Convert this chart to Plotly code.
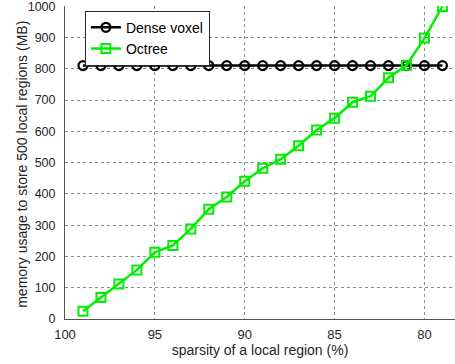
import plotly.graph_objects as go

sparsity = [99, 98, 97, 96, 95, 94, 93, 92, 91, 90, 89, 88, 87, 86, 85, 84, 83, 82, 81, 80, 79]
dense_voxel = [810] * 21
octree = [25, 69, 112, 157, 213, 235, 288, 351, 390, 440, 482, 511, 554, 604, 642,
          693, 712, 771, 811, 898, 999]

x_ticks = [100, 95, 90, 85, 80]
y_ticks = [0, 100, 200, 300, 400, 500, 600, 700, 800, 900, 1000]

font = "Liberation Sans, Arial, sans-serif"

fig = go.Figure()
fig.add_trace(go.Scatter(
    x=sparsity, y=dense_voxel, mode="lines+markers", name="Dense voxel",
    line=dict(color="black", width=2.5),
    marker=dict(symbol="circle-open", size=9, color="black", line=dict(width=2.2, color="black")),
))
fig.add_trace(go.Scatter(
    x=sparsity, y=octree, mode="lines+markers", name="Octree",
    line=dict(color="#00ee00", width=2.5),
    marker=dict(symbol="square-open", size=9, color="#00ee00", line=dict(width=2, color="#00ee00")),
))

fig.update_layout(
    width=455, height=364,
    margin=dict(l=65, r=0, t=6, b=45),
    paper_bgcolor="white", plot_bgcolor="white",
    font=dict(family=font, size=13, color="#262626"),
    showlegend=True,
    legend=dict(
        x=0.051, y=0.985, xanchor="left", yanchor="top",
        bgcolor="white", bordercolor="#262626", borderwidth=1,
        font=dict(size=14, color="black"),
        tracegroupgap=0, itemwidth=30,
    ),
    annotations=[dict(
        text="memory usage to store 500 local regions (MB)",
        xref="paper", yref="paper", x=-0.110, y=0.493,
        xanchor="center", yanchor="middle", textangle=-90, showarrow=False,
        font=dict(size=14, color="#262626"),
    )],
)
fig.update_xaxes(
    range=[100, 78.3], tickvals=x_ticks, ticktext=[str(v) for v in x_ticks],
    showgrid=True, gridcolor="#8a8a8a", griddash="dot", gridwidth=1,
    showline=True, linecolor="#555555", linewidth=1, zeroline=False,
    ticks="", tickfont=dict(size=13), ticklabelstandoff=3,
    title=dict(text="sparsity of a local region (%)", font=dict(size=14), standoff=4),
)
fig.update_yaxes(
    range=[0, 1000.5], tickvals=y_ticks,
    showgrid=True, gridcolor="#8a8a8a", griddash="dot", gridwidth=1,
    showline=True, linecolor="#555555", linewidth=1, zeroline=False,
    ticks="", tickfont=dict(size=12.5), ticklabelstandoff=6, ticklabeloverflow="allow",
)

fig.write_html("out.html")
